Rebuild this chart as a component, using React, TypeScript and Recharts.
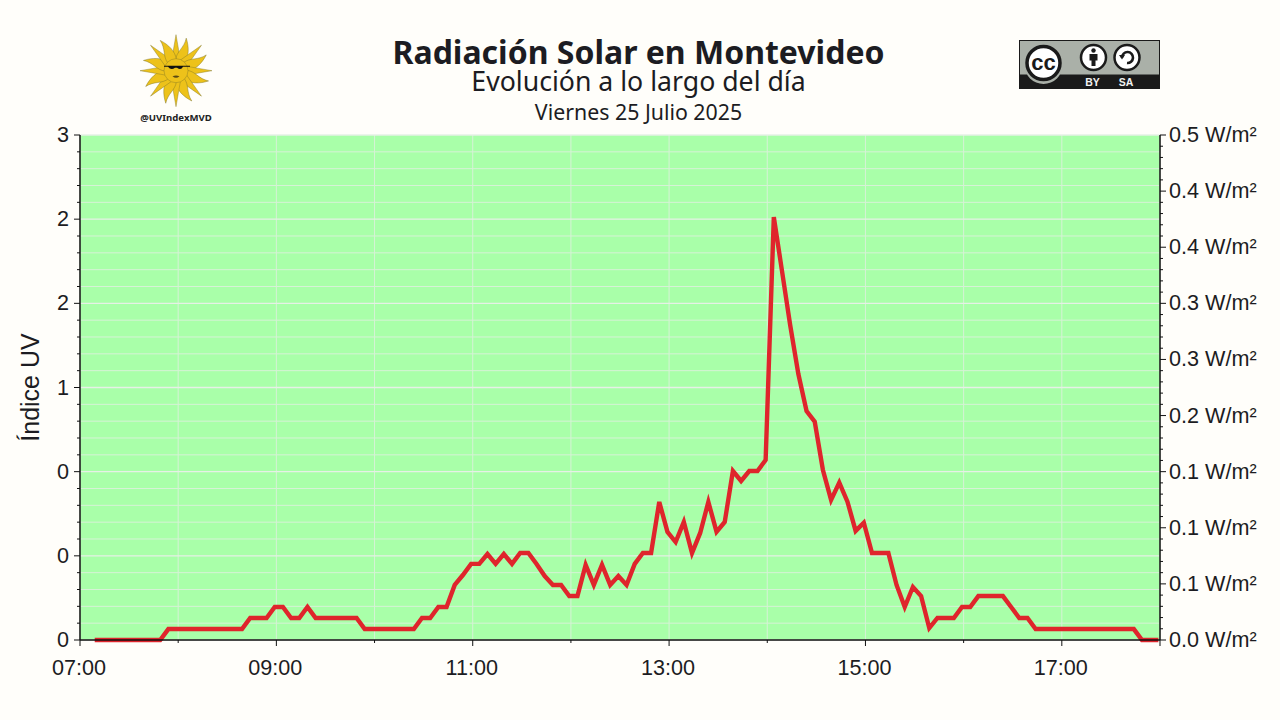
import { CartesianGrid, ComposedChart, Line, XAxis, YAxis } from "recharts";

// UV index, one reading every 5 minutes from 07:09
const uvValues = [
  0, 0, 0, 0, 0, 0, 0, 0, 0,
  0.065, 0.065, 0.065, 0.065, 0.065, 0.065, 0.065, 0.065, 0.065, 0.065,
  0.131, 0.131, 0.131, 0.196, 0.196, 0.131, 0.131, 0.196,
  0.131, 0.131, 0.131, 0.131, 0.131, 0.131,
  0.065, 0.065, 0.065, 0.065, 0.065, 0.065, 0.065,
  0.131, 0.131, 0.196, 0.196, 0.327, 0.386, 0.452, 0.452, 0.511, 0.452,
  0.511, 0.452, 0.517, 0.517, 0.452, 0.38, 0.327, 0.327, 0.261, 0.261,
  0.446, 0.327, 0.446, 0.327, 0.38, 0.327, 0.452, 0.517, 0.517, 0.82,
  0.642, 0.582, 0.701, 0.517, 0.636, 0.82, 0.642, 0.701, 1.004, 0.945,
  1.004, 1.004, 1.069, 2.513, 2.192, 1.871, 1.58, 1.36, 1.297, 1.01,
  0.832, 0.935, 0.822, 0.648, 0.697, 0.517, 0.517, 0.517, 0.327, 0.196,
  0.315, 0.261, 0.071, 0.131, 0.131, 0.131, 0.196, 0.196, 0.261, 0.261,
  0.261, 0.261, 0.196, 0.131, 0.131,
  0.065, 0.065, 0.065, 0.065, 0.065, 0.065, 0.065, 0.065, 0.065, 0.065, 0.065, 0.065, 0.065,
  0, 0, 0,
];
const firstMinute = 9;
const stepMinutes = 5;
const uvPerWatt = 6; // the right axis tops out at 0.5 where the left one reaches 3

const hourTicks = [0, 60, 120, 180, 240, 300, 360, 420, 480, 540, 600, 660];
const hourLabels = ["07:00", "", "09:00", "", "11:00", "", "13:00", "", "15:00", "", "17:00", ""];

const uvMajor = [0, 0.5, 1, 1.5, 2, 2.5, 3];
const uvMajorLabels = ["0", "0", "0", "1", "2", "2", "3"];
const uvMinor = [
  0.1, 0.2, 0.3, 0.4, 0.6, 0.7, 0.8, 0.9, 1.1, 1.2, 1.3, 1.4, 1.6, 1.7, 1.8, 1.9, 2.1, 2.2, 2.3, 2.4, 2.6, 2.7, 2.8, 2.9,
];
const wattLabels = [
  "0.0 W/m²", "0.1 W/m²", "0.1 W/m²", "0.1 W/m²", "0.2 W/m²",
  "0.3 W/m²", "0.3 W/m²", "0.4 W/m²", "0.4 W/m²", "0.5 W/m²",
];

const chartData = uvValues.map((uv, i) => ({
  minute: firstMinute + i * stepMinutes,
  uv,
  watt: uv / uvPerWatt,
}));
const wattTicks = Array.from({ length: 46 }, (_, i) => (i * 0.5) / 45);

const INK = "#1c1c22";
const AXIS_FONT = "'Liberation Sans', Arial, sans-serif";
const TICK_FONT_SIZE = 21.6;

function BottomTick({ x, y, index }: any) {
  const label = hourLabels[index];
  return (
    <g>
      <line x1={x} x2={x} y1={y} y2={y + (label || index === 11 ? 6 : 3)} stroke="#111" strokeWidth={1} />
      {label ? (
        <text x={x - 1} y={y + 35} textAnchor="middle" fontSize={TICK_FONT_SIZE} fontFamily={AXIS_FONT} fill={INK}>
          {label}
        </text>
      ) : null}
    </g>
  );
}

function LeftTick({ x, y, payload }: any) {
  const at = uvMajor.indexOf(payload.value);
  return (
    <g>
      <line x1={x} x2={x - (at >= 0 ? 6 : 3)} y1={y} y2={y} stroke="#111" strokeWidth={1} />
      {at >= 0 ? (
        <text x={x - 11} y={y + 7} textAnchor="end" fontSize={TICK_FONT_SIZE} fontFamily={AXIS_FONT} fill={INK}>
          {uvMajorLabels[at]}
        </text>
      ) : null}
    </g>
  );
}

function RightTick({ x, y, index }: any) {
  const major = index % 5 === 0;
  return (
    <g>
      <line x1={x} x2={x + (major ? 6 : 3)} y1={y} y2={y} stroke="#111" strokeWidth={1} />
      {major ? (
        <text x={x + 9} y={y + 7} textAnchor="start" fontSize={TICK_FONT_SIZE} fontFamily={AXIS_FONT} fill={INK}>
          {wattLabels[index / 5]}
        </text>
      ) : null}
    </g>
  );
}

function SunLogo() {
  const rays = Array.from({ length: 16 }, (_, i) => i * 22.5);
  return (
    <g>
      <g transform="translate(176 70.7)" fill="#edc21a" stroke="#7d7326" strokeWidth={0.4}>
        {rays.map((deg, i) =>
          i % 2 === 0 ? (
            <path key={deg} transform={`rotate(${deg})`} d="M-4.5,-10 L0,-36 L4.5,-10 Z" />
          ) : (
            <path key={deg} transform={`rotate(${deg})`} d="M-4.5,-10 C-7,-18 -1,-24 -3,-34 C3,-27 7,-18 4.5,-10 Z" />
          )
        )}
        <circle r={12} />
        <path d="M-12,-5 L14,-5 L14,-4 L7,-4 Q5,0 1,-3 L-1,-3 Q-5,0 -8,-4 L-12,-4 Z" fill="#111" stroke="none" />
        <path d="M-3.5,5.5 Q0,4 3.5,5.5 Q0,8.5 -3.5,5.5 Z" fill="#5a4a14" stroke="none" />
      </g>
      <text x={176} y={121} textAnchor="middle" fontSize={9.6} fontWeight={700} fontFamily="'Noto Sans'" fill="#222">
        @UVIndexMVD
      </text>
    </g>
  );
}

function CcBadge() {
  return (
    <g fontFamily={AXIS_FONT}>
      <rect x={1019.5} y={40.5} width={140} height={48} fill="#aab0a8" stroke="#1a1a1a" strokeWidth={1} />
      <rect x={1019} y={74.5} width={141} height={14.5} fill="#1a1a1a" />
      <circle cx={1043.5} cy={65} r={19} fill="#aab0a8" />
      <circle cx={1043.5} cy={63} r={16.5} fill="#fff" stroke="#1a1a1a" strokeWidth={3.5} />
      <text x={1043.5} y={70} textAnchor="middle" fontSize={22} fontWeight={700} fill="#1a1a1a">
        cc
      </text>
      <circle cx={1093.5} cy={57.5} r={12.5} fill="#fff" stroke="#1a1a1a" strokeWidth={2.5} />
      <circle cx={1093.5} cy={50.5} r={2.2} fill="#1a1a1a" />
      <path d="M1089.5,54 H1097.5 V60.5 H1095.5 V66 H1091.5 V60.5 H1089.5 Z" fill="#1a1a1a" />
      <circle cx={1127} cy={57.5} r={12.5} fill="#fff" stroke="#1a1a1a" strokeWidth={2.5} />
      <path d="M1122,57.5 A5.5,5.5 0 1 1 1127,63" fill="none" stroke="#1a1a1a" strokeWidth={2.6} />
      <path d="M1119,55 L1125,55 L1122,59.5 Z" fill="#1a1a1a" />
      <text x={1092.5} y={86} textAnchor="middle" fontSize={10.5} fontWeight={700} fill="#f2f2f2">
        BY
      </text>
      <text x={1126} y={86} textAnchor="middle" fontSize={10.5} fontWeight={700} fill="#f2f2f2">
        SA
      </text>
    </g>
  );
}

export default function App() {
  return (
    <div style={{ position: "absolute", left: 0, top: 0, width: 1280, height: 720, background: "#fffefa", overflow: "hidden" }}>
      <ComposedChart
        width={1280}
        height={720}
        data={chartData}
        margin={{ top: 135, right: 0, bottom: 0, left: 0 }}
      >
        <CartesianGrid
          xAxisId="time"
          yAxisId="uv"
          fill="#a9ffa9"
          stroke="#d6f2d6"
          strokeWidth={1}
          horizontalValues={uvMinor}
          verticalValues={hourTicks}
        />
        <CartesianGrid
          xAxisId="time"
          yAxisId="uv"
          stroke="#e6f0e6"
          strokeWidth={1.3}
          vertical={false}
          horizontalValues={uvMajor}
        />
        <XAxis
          xAxisId="time"
          dataKey="minute"
          type="number"
          domain={[0, 660]}
          ticks={hourTicks}
          interval={0}
          height={80}
          tickSize={0}
          tickMargin={0}
          tick={<BottomTick />}
          axisLine={{ stroke: "#111", strokeWidth: 1.5 }}
          allowDataOverflow
        />
        <YAxis
          yAxisId="uv"
          orientation="left"
          domain={[0, 3]}
          ticks={[...uvMajor, ...uvMinor].sort((a, b) => a - b)}
          interval={0}
          width={80}
          tickSize={0}
          tickMargin={0}
          tick={<LeftTick />}
          axisLine={{ stroke: "#111", strokeWidth: 1.5 }}
          label={{
            value: "Índice UV",
            angle: -90,
            position: "insideLeft",
            offset: 30,
            style: { fontSize: 25, fontFamily: AXIS_FONT, fill: INK, textAnchor: "middle" },
          }}
        />
        <YAxis
          yAxisId="watt"
          orientation="right"
          domain={[0, 0.5]}
          ticks={wattTicks}
          interval={0}
          width={120}
          tickSize={0}
          tickMargin={0}
          tick={<RightTick />}
          axisLine={{ stroke: "#111", strokeWidth: 1.5 }}
        />
        {/* invisible series, keeps the right axis alive */}
        <Line
          xAxisId="time"
          yAxisId="watt"
          dataKey="watt"
          stroke="transparent"
          strokeWidth={0}
          dot={false}
          legendType="none"
          isAnimationActive={false}
        />
        <Line
          xAxisId="time"
          yAxisId="uv"
          dataKey="uv"
          type="linear"
          stroke="#df252c"
          strokeWidth={4.4}
          strokeLinejoin="miter"
          dot={false}
          isAnimationActive={false}
        />
      </ComposedChart>
      <svg width={1280} height={135} style={{ position: "absolute", left: 0, top: 0, pointerEvents: "none" }}>
        <text x={638.5} y={64} textAnchor="middle" fontSize={32} fontWeight={700} fontFamily="'Noto Sans'" fill={INK}>
          Radiación Solar en Montevideo
        </text>
        <text x={638.5} y={91} textAnchor="middle" fontSize={26.67} fontFamily="'Noto Sans'" fill={INK}>
          Evolución a lo largo del día
        </text>
        <text x={638.5} y={120} textAnchor="middle" fontSize={21.33} fontFamily="'Noto Sans'" fill={INK}>
          Viernes 25 Julio 2025
        </text>
        <SunLogo />
        <CcBadge />
      </svg>
    </div>
  );
}
